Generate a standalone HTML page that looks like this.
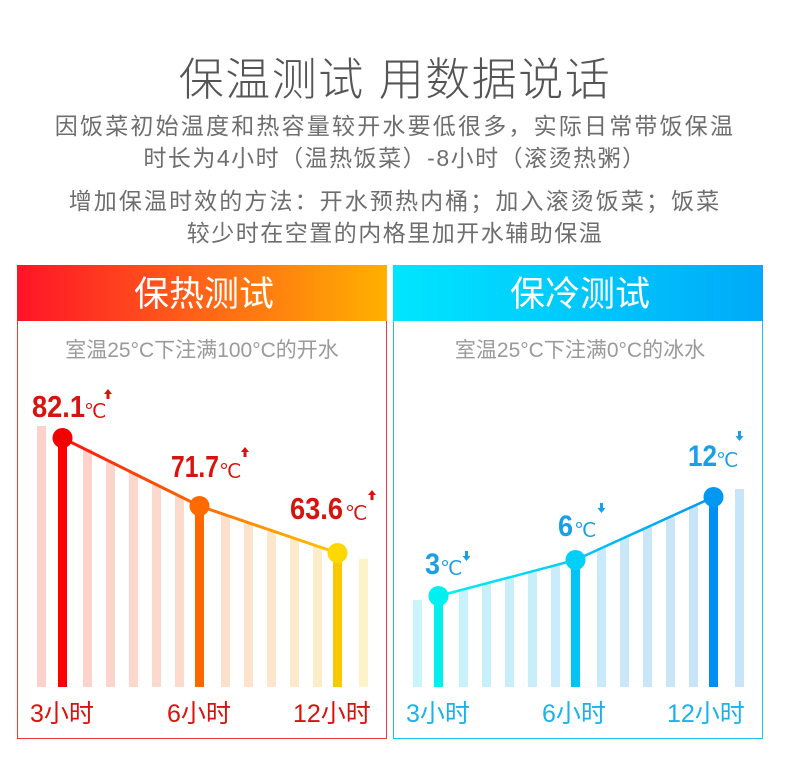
<!DOCTYPE html>
<html><head><meta charset="utf-8"><style>
html,body{margin:0;padding:0;background:#fff;}
body{width:790px;height:781px;overflow:hidden;position:relative;font-family:"Liberation Sans","Noto Sans CJK SC",sans-serif;}
.t{position:absolute;left:0;width:790px;text-align:center;color:#666;white-space:nowrap;}
</style></head><body>
<div class="t" style="top:43px;font-size:45px;color:#555;font-weight:300;letter-spacing:1.5px;">保温测试 用数据说话</div>
<div class="t" style="top:107px;font-size:23px;letter-spacing:2.2px;color:#6e6e6e;">因饭菜初始温度和热容量较开水要低很多，实际日常带饭保温</div>
<div class="t" style="top:139px;font-size:23px;letter-spacing:1.5px;color:#6e6e6e;">时长为4小时（温热饭菜）-8小时（滚烫热粥）</div>
<div class="t" style="top:182px;font-size:23px;letter-spacing:2.1px;color:#6e6e6e;">增加保温时效的方法：开水预热内桶；加入滚烫饭菜；饭菜</div>
<div class="t" style="top:214px;font-size:23px;letter-spacing:1.5px;color:#6e6e6e;">较少时在空置的内格里加开水辅助保温</div>
<svg width="790" height="781" style="position:absolute;left:0;top:0" xmlns="http://www.w3.org/2000/svg">
<defs>
<linearGradient id="hr" x1="0" x2="1"><stop offset="0" stop-color="#ff1428"/><stop offset="0.5" stop-color="#ff6418"/><stop offset="1" stop-color="#ffb000"/></linearGradient>
<linearGradient id="hb" x1="0" x2="1"><stop offset="0" stop-color="#00e6ff"/><stop offset="1" stop-color="#00aaf8"/></linearGradient>
<linearGradient id="lr" x1="62" x2="337" gradientUnits="userSpaceOnUse"><stop offset="0" stop-color="#ff1010"/><stop offset="0.5" stop-color="#ff6a00"/><stop offset="1" stop-color="#ffc800"/></linearGradient>
<linearGradient id="lb" x1="437" x2="713" gradientUnits="userSpaceOnUse"><stop offset="0" stop-color="#00f2f2"/><stop offset="0.5" stop-color="#00c8f8"/><stop offset="1" stop-color="#0096f0"/></linearGradient>
</defs>
<rect x="17.5" y="265.5" width="369" height="473" fill="#fff" stroke="#f03a2a" stroke-width="1"/>
<rect x="17" y="265" width="370" height="56" fill="url(#hr)"/>
<rect x="393.5" y="265.5" width="369" height="473" fill="#fff" stroke="#20c0ee" stroke-width="1"/>
<rect x="393" y="265" width="370" height="56" fill="url(#hb)"/>
<text x="204" y="306" text-anchor="middle" font-size="35" fill="#fff" font-family="Noto Sans CJK SC,sans-serif">保热测试</text>
<text x="580" y="306" text-anchor="middle" font-size="35" fill="#fff" font-family="Noto Sans CJK SC,sans-serif">保冷测试</text>
<text x="202" y="357" text-anchor="middle" font-size="21" fill="#9a9a9a" font-family="Liberation Sans,Noto Sans CJK SC,sans-serif">室温25°C下注满100°C的开水</text>
<text x="580" y="357" text-anchor="middle" font-size="21" fill="#9a9a9a" font-family="Liberation Sans,Noto Sans CJK SC,sans-serif">室温25°C下注满0°C的冰水</text>
<g>
<rect x="37" y="426" width="9" height="261" fill="#fdd0cc"/>
<rect x="83" y="449" width="9" height="238" fill="#fdd2cc"/>
<rect x="106" y="462" width="9" height="225" fill="#fdd4cc"/>
<rect x="129" y="473" width="9" height="214" fill="#fdd6cc"/>
<rect x="152" y="485" width="9" height="202" fill="#fdd8cc"/>
<rect x="175" y="496" width="9" height="191" fill="#fddacc"/>
<rect x="221" y="515" width="9" height="172" fill="#fde0cc"/>
<rect x="244" y="523" width="9" height="164" fill="#fde3cc"/>
<rect x="267" y="531" width="9" height="156" fill="#fde6cc"/>
<rect x="290" y="538" width="9" height="149" fill="#fde9cc"/>
<rect x="313" y="546" width="9" height="141" fill="#fdecca"/>
<rect x="359" y="559" width="9" height="128" fill="#fdf2c8"/>
</g>
<rect x="58" y="438" width="9" height="249" fill="#ff0000"/>
<rect x="195" y="506" width="9" height="181" fill="#ff6600"/>
<rect x="333" y="553" width="9" height="134" fill="#f8c800"/>
<polyline points="62.5,438 199.5,506 337.5,553" fill="none" stroke="url(#lr)" stroke-width="3"/>
<circle cx="62.5" cy="438" r="10" fill="#f20000"/>
<circle cx="199.5" cy="506" r="10" fill="#ff6a00"/>
<circle cx="337.5" cy="553" r="10" fill="#ffd800"/>
<g fill="#d8120c" font-family="Liberation Sans,sans-serif">
<text x="32" y="417" font-size="31" font-weight="bold" textLength="53" lengthAdjust="spacingAndGlyphs">82.1</text>
<text x="84" y="418" font-size="20">℃</text>
<path d="M108,389 l4,5 h-2.5 v5 h-3 v-5 h-2.5z"/>
<text x="171" y="477" font-size="31" font-weight="bold" textLength="48" lengthAdjust="spacingAndGlyphs">71.7</text>
<text x="219" y="478" font-size="20">℃</text>
<path d="M245,447 l4,5 h-2.5 v5 h-3 v-5 h-2.5z"/>
<text x="290" y="519" font-size="31" font-weight="bold" textLength="53" lengthAdjust="spacingAndGlyphs">63.6</text>
<text x="345" y="520" font-size="20">℃</text>
<path d="M372,490 l4,5 h-2.5 v5 h-3 v-5 h-2.5z"/>
</g>
<g fill="#d8120c" font-size="25" font-family="Liberation Sans,Noto Sans CJK SC,sans-serif">
<text x="30" y="722">3小时</text>
<text x="167" y="722">6小时</text>
<text x="293" y="722">12小时</text>
</g>
<g>
<rect x="413" y="600" width="9" height="87" fill="#c8f4fa"/>
<rect x="459" y="589" width="9" height="98" fill="#c8f2fa"/>
<rect x="482" y="583" width="9" height="104" fill="#c8f0fa"/>
<rect x="505" y="577" width="9" height="110" fill="#c8eefa"/>
<rect x="528" y="571" width="9" height="116" fill="#c8eefa"/>
<rect x="551" y="565" width="9" height="122" fill="#c8ecfa"/>
<rect x="597" y="548" width="9" height="139" fill="#c8eafa"/>
<rect x="620" y="538" width="9" height="149" fill="#c8e8fa"/>
<rect x="643" y="527" width="9" height="160" fill="#c8e6f8"/>
<rect x="666" y="517" width="9" height="170" fill="#c8e6f8"/>
<rect x="689" y="506" width="9" height="181" fill="#c8e4f8"/>
<rect x="735" y="489" width="9" height="198" fill="#c8e4f8"/>
</g>
<rect x="434" y="596" width="9" height="91" fill="#00f0f0"/>
<rect x="571" y="560" width="9" height="127" fill="#00c4f6"/>
<rect x="709" y="497" width="9" height="190" fill="#0090f0"/>
<polyline points="438.5,596 575.5,560 713.5,497" fill="none" stroke="url(#lb)" stroke-width="2.5"/>
<circle cx="438.5" cy="596" r="10" fill="#00f0f0"/>
<circle cx="575.5" cy="560" r="10" fill="#00d0f8"/>
<circle cx="713.5" cy="497" r="10" fill="#0098f0"/>
<g fill="#1a9ee6" font-family="Liberation Sans,sans-serif">
<text x="425" y="574" font-size="30" font-weight="bold" textLength="15" lengthAdjust="spacingAndGlyphs">3</text>
<text x="440" y="575" font-size="20">℃</text>
<path d="M465,551 h3 v5 h2.5 l-4,5 l-4,-5 h2.5z"/>
<text x="558" y="536" font-size="30" font-weight="bold" textLength="15" lengthAdjust="spacingAndGlyphs">6</text>
<text x="574" y="537" font-size="20">℃</text>
<path d="M600,503 h3 v5 h2.5 l-4,5 l-4,-5 h2.5z"/>
<text x="688" y="466" font-size="30" font-weight="bold" textLength="29" lengthAdjust="spacingAndGlyphs">12</text>
<text x="716" y="467" font-size="20">℃</text>
<path d="M738,431 h3 v5 h2.5 l-4,5 l-4,-5 h2.5z"/>
</g>
<g fill="#1ab2ee" font-size="25" font-family="Liberation Sans,Noto Sans CJK SC,sans-serif">
<text x="406" y="722">3小时</text>
<text x="542" y="722">6小时</text>
<text x="667" y="722">12小时</text>
</g>
</svg>
</body></html>
